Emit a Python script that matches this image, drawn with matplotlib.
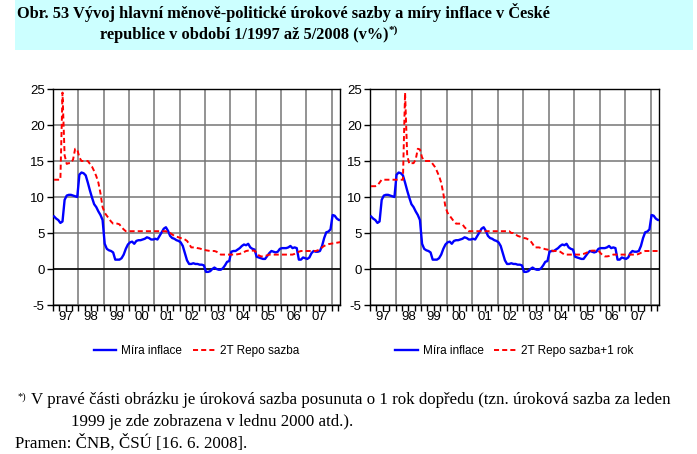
import matplotlib
matplotlib.use("Agg")
import matplotlib.pyplot as plt
import numpy as np
from matplotlib.patches import Rectangle

# ---------------------------------------------------------------------------
# Data: monthly values 1/1997 .. 5/2008
# ---------------------------------------------------------------------------
inflation = [
    7.3, 7.0, 6.8, 6.4, 6.6, 9.6, 10.2, 10.3, 10.3, 10.2, 10.1, 10.0,   # 1997
    13.1, 13.4, 13.3, 13.0, 12.0, 10.9, 9.9, 9.0, 8.6, 8.0, 7.5, 6.8,   # 1998
    3.5, 2.8, 2.6, 2.5, 2.3, 1.3, 1.3, 1.3, 1.5, 2.0, 2.8, 3.4,         # 1999
    3.7, 3.8, 3.5, 3.9, 4.0, 4.0, 4.1, 4.2, 4.4, 4.3, 4.1, 4.1,         # 2000
    4.2, 4.1, 4.6, 5.1, 5.6, 5.8, 5.3, 4.6, 4.3, 4.2, 4.0, 3.9,         # 2001
    3.7, 3.2, 2.2, 1.2, 0.7, 0.7, 0.8, 0.7, 0.7, 0.6, 0.6, 0.5,         # 2002
    -0.4, -0.4, -0.3, 0.0, 0.2, 0.0, -0.1, -0.1, 0.1, 0.5, 1.0, 1.1,    # 2003
    2.4, 2.5, 2.5, 2.7, 2.9, 3.2, 3.4, 3.3, 3.5, 3.0, 2.8, 2.7,         # 2004
    1.7, 1.6, 1.5, 1.4, 1.4, 1.8, 2.2, 2.5, 2.4, 2.3, 2.4, 2.8,         # 2005
    2.9, 2.9, 2.9, 3.0, 3.2, 2.9, 3.0, 2.9, 1.3, 1.3, 1.6, 1.5,         # 2006
    1.4, 1.6, 2.2, 2.5, 2.4, 2.4, 2.5, 3.2, 4.3, 5.1, 5.2, 5.5,         # 2007
    7.5, 7.4, 7.0, 6.8, 6.8,                                            # 2008
]

repo_2t = [
    12.4, 12.4, 12.4, 12.4, 24.5, 15.8, 14.6, 14.7, 14.7, 15.2, 16.7, 16.6,   # 1997
    15.5, 15.0, 15.0, 15.0, 15.0, 14.6, 14.2, 13.6, 12.9, 12.0, 10.5, 8.6,    # 1998
    7.8, 7.4, 7.0, 6.6, 6.3, 6.3, 6.3, 6.2, 5.8, 5.5, 5.25, 5.25,             # 1999
    5.25, 5.25, 5.25, 5.25, 5.25, 5.25, 5.25, 5.25, 5.25, 5.25, 5.25, 5.25,   # 2000
    5.25, 5.25, 5.25, 5.25, 5.25, 5.25, 5.0, 5.0, 4.8, 4.6, 4.5, 4.4,         # 2001
    4.3, 4.25, 4.1, 3.9, 3.5, 3.0, 3.0, 3.0, 2.9, 2.85, 2.75, 2.7,            # 2002
    2.6, 2.55, 2.5, 2.5, 2.5, 2.4, 2.2, 2.0, 2.0, 2.0, 2.0, 2.0,              # 2003
    2.0, 2.0, 2.0, 2.05, 2.1, 2.2, 2.35, 2.5, 2.55, 2.55, 2.55, 2.55,         # 2004
    2.2, 1.9, 1.75, 1.75, 1.8, 1.9, 2.0, 2.0, 2.0, 2.0, 2.0, 2.0,             # 2005
    2.0, 2.0, 2.0, 2.0, 2.0, 2.0, 2.1, 2.25, 2.4, 2.5, 2.5, 2.5,              # 2006
    2.5, 2.5, 2.5, 2.5, 2.5, 2.6, 2.75, 3.0, 3.2, 3.35, 3.45, 3.5,            # 2007
    3.55, 3.6, 3.65, 3.7, 3.75,                                               # 2008
]

# 2T repo rate in 1996 (needed for the shifted series in the right panel)
repo_1996 = [11.5, 11.5, 11.5, 11.6, 12.0, 12.4, 12.4, 12.4, 12.4, 12.4, 12.4, 12.4]

year_labels = ["97", "98", "99", "00", "01", "02", "03", "04", "05", "06", "07"]
y_ticks = [-5, 0, 5, 10, 15, 20, 25]

# shifted by one year forward: rate of 1/1999 shown in 1/2000 etc.
repo_shifted = repo_1996 + repo_2t[:len(repo_2t) - 12]

months = np.arange(len(inflation)) + 0.5
n_months = 136

# ---------------------------------------------------------------------------
# Style
# ---------------------------------------------------------------------------
plt.rcParams.update({
    "font.family": "Liberation Sans",
    "font.size": 9,
    "axes.unicode_minus": False,
    "axes.linewidth": 1.0,
})

BLUE = "#0000FF"
RED = "#FF0000"
GRID = "#757575"
SERIF = "Liberation Serif"

fig = plt.figure(figsize=(6.97, 4.54), dpi=100)

# title band
fig.patches.append(Rectangle((15 / 697, 1 - 50 / 454), 678 / 697, 50 / 454,
                             transform=fig.transFigure, figure=fig,
                             facecolor="#CCFFFF", edgecolor="none"))
fig.text(17 / 697, 1 - 13 / 454,
         "Obr. 53 Vývoj hlavní měnově-politické úrokové sazby a míry inflace v České",
         family=SERIF, weight="bold", fontsize=11.8, va="center", ha="left")
fig.text(100 / 697, 1 - 35 / 454,
         "republice v období 1/1997 až 5/2008 (v%)",
         family=SERIF, weight="bold", fontsize=11.8, va="center", ha="left")
fig.text(389 / 697, 1 - 30 / 454, "*)", family=SERIF, weight="bold",
         fontsize=8, va="center", ha="left")


def panel(ax, rate, rate_label):
    ax.set_xlim(0, n_months)
    ax.set_ylim(-5, 25)

    # year grid (vertical) and level grid (horizontal)
    ax.vlines(np.arange(12, n_months, 12), -5, 25, colors=GRID, lw=1.1,
              zorder=1)
    ax.set_yticks(y_ticks)
    ax.yaxis.grid(True, color=GRID, lw=1.1)
    ax.axhline(0, color="black", lw=1.1, zorder=2)

    ax.plot(months, inflation, color=BLUE, lw=1.7, label="Míra inflace",
            zorder=3)
    ax.plot(months, rate, color=RED, lw=1.4, ls=(0, (2.6, 1.6)),
            label=rate_label, zorder=4)

    ax.tick_params(axis="y", direction="out", length=4.5, width=1, pad=1.5,
                   labelsize=9.5)

    ax.set_xticks(np.arange(6, n_months - 4, 12))
    ax.set_xticklabels(year_labels)
    ax.set_xticks(np.arange(0, n_months + 1, 3), minor=True)
    ax.xaxis.remove_overlapping_locs = False
    ax.tick_params(axis="x", which="major", length=0, pad=4, labelsize=9.5)
    ax.tick_params(axis="x", which="minor", direction="out", length=4,
                   width=1)
    ax.set_xlim(0, n_months)
    ax.set_ylim(-5, 25)
    for s in ax.spines.values():
        s.set_color("black")
        s.set_linewidth(1.0)

    ax.legend(loc="center", bbox_to_anchor=(0.5, -0.215), ncol=2,
              frameon=False, handlelength=1.9, handletextpad=0.4,
              columnspacing=0.9, fontsize=8.5)


ax_l = fig.add_axes([53 / 697, 1 - 305 / 454, 287 / 697, 216 / 454])
ax_r = fig.add_axes([370 / 697, 1 - 305 / 454, 289 / 697, 216 / 454])
panel(ax_l, repo_2t, "2T Repo sazba")
panel(ax_r, repo_shifted, "2T Repo sazba+1 rok")

# footnote
fig.text(18 / 697, 1 - 397 / 454, "*)", family=SERIF, fontsize=7.5,
         va="center", ha="left")
fig.text(31 / 697, 1 - 400 / 454,
         "V pravé části obrázku je úroková sazba posunuta o 1 rok dopředu "
         "(tzn. úroková sazba za leden",
         family=SERIF, fontsize=12.2, va="center", ha="left")
fig.text(71 / 697, 1 - 422 / 454,
         "1999 je zde zobrazena v lednu 2000 atd.).",
         family=SERIF, fontsize=12.2, va="center", ha="left")
fig.text(15 / 697, 1 - 443 / 454, "Pramen: ČNB, ČSÚ [16. 6. 2008].",
         family=SERIF, fontsize=12.2, va="center", ha="left")

fig.savefig("out.png", dpi=100)
